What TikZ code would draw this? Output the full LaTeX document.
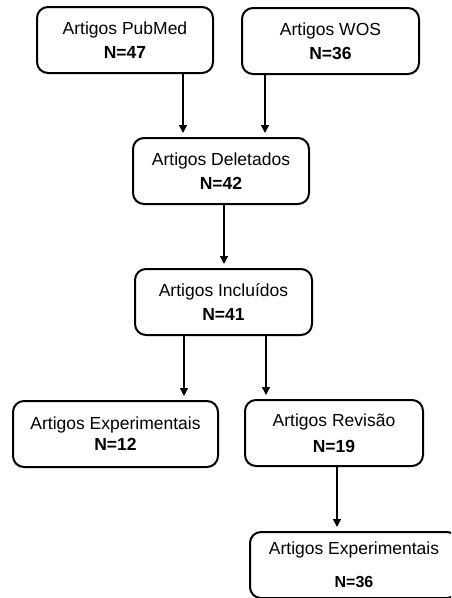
\documentclass[tikz,border=0pt]{standalone}
\usepackage{fontspec}
\setmainfont{Liberation Sans}
\usetikzlibrary{arrows.meta}
\begin{document}
\begin{tikzpicture}[x=1pt,y=1pt,
  box/.style={draw=black,line width=2pt,rounded corners=11pt,align=center,inner sep=0pt,
    font=\fontsize{17.5}{24}\selectfont},
  arr/.style={line width=1.4pt,-{Triangle[length=8pt,width=8pt]},shorten >=4pt}]
\useasboundingbox (0,0) rectangle (451,-598);
\clip (0,0) rectangle (451,-598);
\node[box,minimum width=176,minimum height=66] (b1) at (125,-40) {Artigos PubMed\\\textbf{N=47}};
\node[box,minimum width=177,minimum height=66] (b2) at (330.5,-41) {Artigos WOS\\\textbf{N=36}};
\node[box,minimum width=176,minimum height=66] (b3) at (221,-171) {Artigos Deletados\\\textbf{N=42}};
\node[box,minimum width=177,minimum height=66] (b4) at (223.5,-302) {Artigos Incluídos\\\textbf{N=41}};
\node[box,minimum width=205,minimum height=66] (b5) at (115.5,-434) {Artigos Experimentais\\[-3pt]\textbf{N=12}};
\node[box,minimum width=178,minimum height=66] (b6) at (334,-433) {Artigos Revisão\\[2pt]\textbf{N=19}};
\node[box,minimum width=208,minimum height=66,font=\fontsize{17.5}{22}\selectfont] (b7) at (354,-565) {Artigos Experimentais\\[11pt]{\fontsize{16}{18}\selectfont\textbf{N=36}}};
\draw[arr] (b1.south -| 183,0) -- (b3.north -| 183,0);
\draw[arr] (b2.south -| 265,0) -- (b3.north -| 265,0);
\draw[arr] (b3.south -| 224,0) -- (b4.north -| 224,0);
\draw[arr] (b4.south -| 184,0) -- (b5.north -| 184,0);
\draw[arr] (b4.south -| 266,0) -- (b6.north -| 266,0);
\draw[arr] (b6.south -| 337,0) -- (b7.north -| 337,0);
\end{tikzpicture}
\end{document}
